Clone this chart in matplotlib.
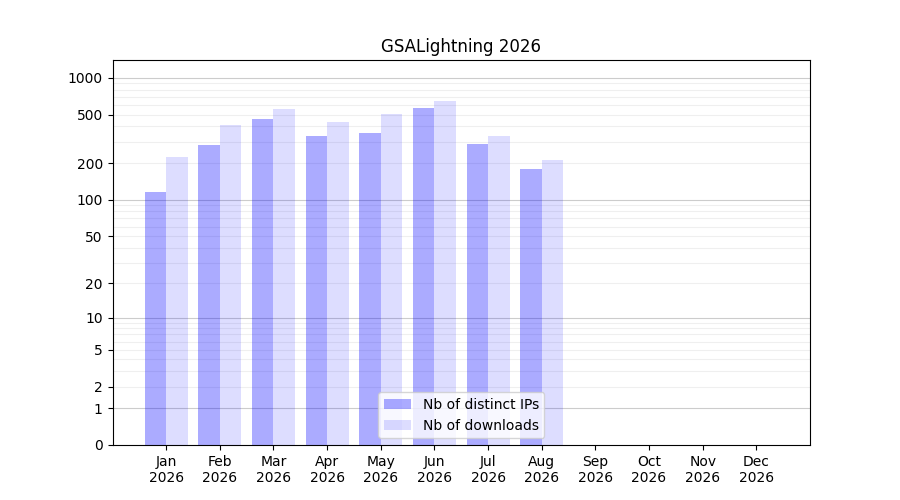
import numpy as np
import matplotlib
matplotlib.use('Agg')
import matplotlib.pyplot as plt
from matplotlib.ticker import FixedLocator, NullFormatter

# %%
months = ['Jan', 'Feb', 'Mar', 'Apr', 'May', 'Jun',
          'Jul', 'Aug', 'Sep', 'Oct', 'Nov', 'Dec']
year = 2026
distinct_ips = [116, 283, 462, 335, 355, 569, 289, 180]
downloads = [226, 413, 558, 436, 508, 650, 336, 213]
ytick_values = [0, 1, 2, 5, 10, 20, 50, 100, 200, 500, 1000]


def fwd(y):
    return np.log10(1 + np.clip(y, 0, None))


def inv(y):
    return 10 ** y - 1


# %%
fig, ax = plt.subplots(figsize=(9, 5), dpi=100)
x = np.arange(len(distinct_ips))
ax.bar(x - 0.2, distinct_ips, width=0.4, color='blue', alpha=0.33,
       label='Nb of distinct IPs')
ax.bar(x + 0.2, downloads, width=0.4, color='blue', alpha=0.135,
       label='Nb of downloads')

ax.set_yscale('function', functions=(fwd, inv))
ax.set_ylim(0, 1400)
ax.yaxis.set_major_locator(FixedLocator(ytick_values))
ax.set_yticklabels([str(v) for v in ytick_values])
minor = [m * 10 ** d for d in range(3) for m in range(2, 10)]
ax.yaxis.set_minor_locator(FixedLocator(minor))
ax.yaxis.set_minor_formatter(NullFormatter())
ax.tick_params(axis='y', which='minor', length=0)

for v in [1, 10, 100, 1000]:
    ax.axhline(v, color='gray', alpha=0.4, lw=0.8, zorder=0.5)
for v in minor:
    ax.axhline(v, color='gray', alpha=0.12, lw=0.8, zorder=0.5)

ax.set_xlim(-1, 12)
ax.set_xticks(range(12))
ax.set_xticklabels([f'{m}\n{year}' for m in months])
ax.set_title(f'GSALightning {year}')
ax.legend(loc='lower center')

plt.savefig('out.png', dpi=100, facecolor='white')
